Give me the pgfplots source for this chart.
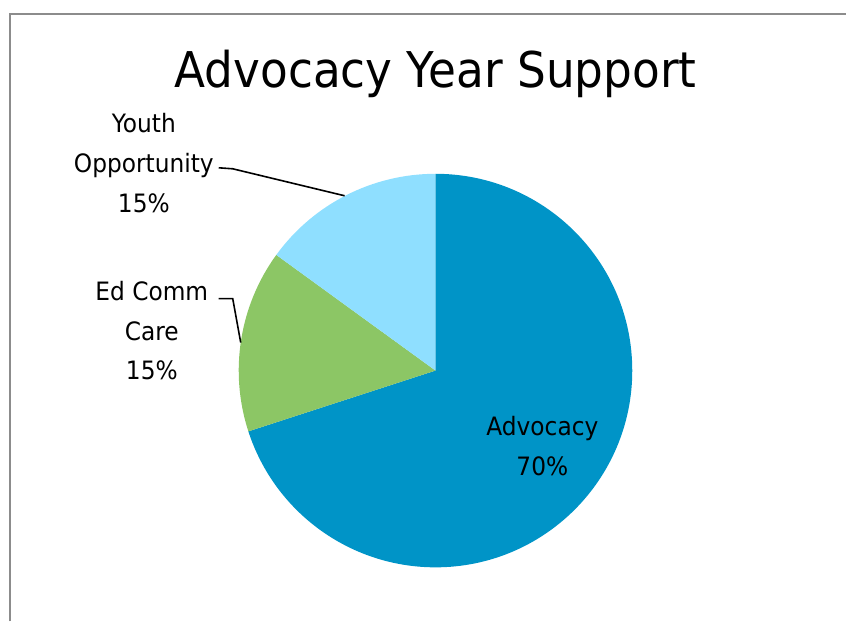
\documentclass[border=0pt]{standalone}
\usepackage{pgfplots}
\pgfplotsset{compat=1.18}
\usepackage{pgfplotstable}
\usepackage{fontspec}
\setmainfont{DejaVu Sans}
\definecolor{cAdv}{RGB}{0,148,199}
\definecolor{cEd}{RGB}{140,198,101}
\definecolor{cYouth}{RGB}{143,223,255}
\definecolor{frame}{RGB}{140,140,140}
\pgfplotstableread{
name value
Advocacy 70
EdCommCare 15
YouthOpportunity 15
}\piedata
\begin{document}
\begin{tikzpicture}
\pgfplotstablegetelem{0}{value}\of\piedata \let\va\pgfplotsretval
\pgfplotstablegetelem{1}{value}\of\piedata \let\vb\pgfplotsretval
\pgfplotstablegetelem{2}{value}\of\piedata \let\vc\pgfplotsretval
\pgfmathsetmacro{\tot}{\va+\vb+\vc}
\pgfmathsetmacro{\aA}{90}
\pgfmathsetmacro{\aB}{90-360*(\va/\tot)}
\pgfmathsetmacro{\aC}{\aB-360*(\vb/\tot)}
\pgfmathsetmacro{\aD}{\aC-360*(\vc/\tot)}
\begin{axis}[hide axis, scale only axis, width=635.25pt, height=466.5pt,
  xmin=0, xmax=847, ymin=0, ymax=622, y dir=reverse, clip=false]
\path (axis cs:0,0) rectangle (axis cs:847,622);
\draw[frame, line width=1.5pt] (axis cs:10,622) -- (axis cs:10,14) -- (axis cs:847,14);
\def\R{147.75pt}
\fill[cAdv] (axis cs:436,371) -- ++(\aA:\R) arc[start angle=\aA, end angle=\aB, radius=\R] -- cycle;
\fill[cEd] (axis cs:436,371) -- ++(\aB:\R) arc[start angle=\aB, end angle=\aC, radius=\R] -- cycle;
\fill[cYouth] (axis cs:436,371) -- ++(\aC:\R) arc[start angle=\aC, end angle=\aD, radius=\R] -- cycle;
\node[anchor=base, font=\fontsize{37pt}{44pt}\selectfont] at (axis cs:436,88) {\scalebox{0.92}[1]{Advocacy Year Support}};
\node[align=center, font=\fontsize{19pt}{30pt}\selectfont] at (axis cs:144,163) {\scalebox{0.92}[1]{Youth}\\\scalebox{0.92}[1]{Opportunity}\\\scalebox{0.92}[1]{15\%}};
\node[align=center, font=\fontsize{19pt}{30pt}\selectfont] at (axis cs:152,331) {\scalebox{0.92}[1]{Ed Comm}\\\scalebox{0.92}[1]{Care}\\\scalebox{0.92}[1]{15\%}};
\node[align=center, font=\fontsize{19pt}{30pt}\selectfont] at (axis cs:543,447) {\scalebox{0.92}[1]{Advocacy}\\\scalebox{0.92}[1]{70\%}};
\draw[black, line width=1.2pt] (axis cs:219,168) -- (axis cs:233,169) -- (axis cs:345,196);
\draw[black, line width=1.2pt] (axis cs:219,299) -- (axis cs:233,299) -- (axis cs:241,343);
\end{axis}
\end{tikzpicture}
\end{document}
